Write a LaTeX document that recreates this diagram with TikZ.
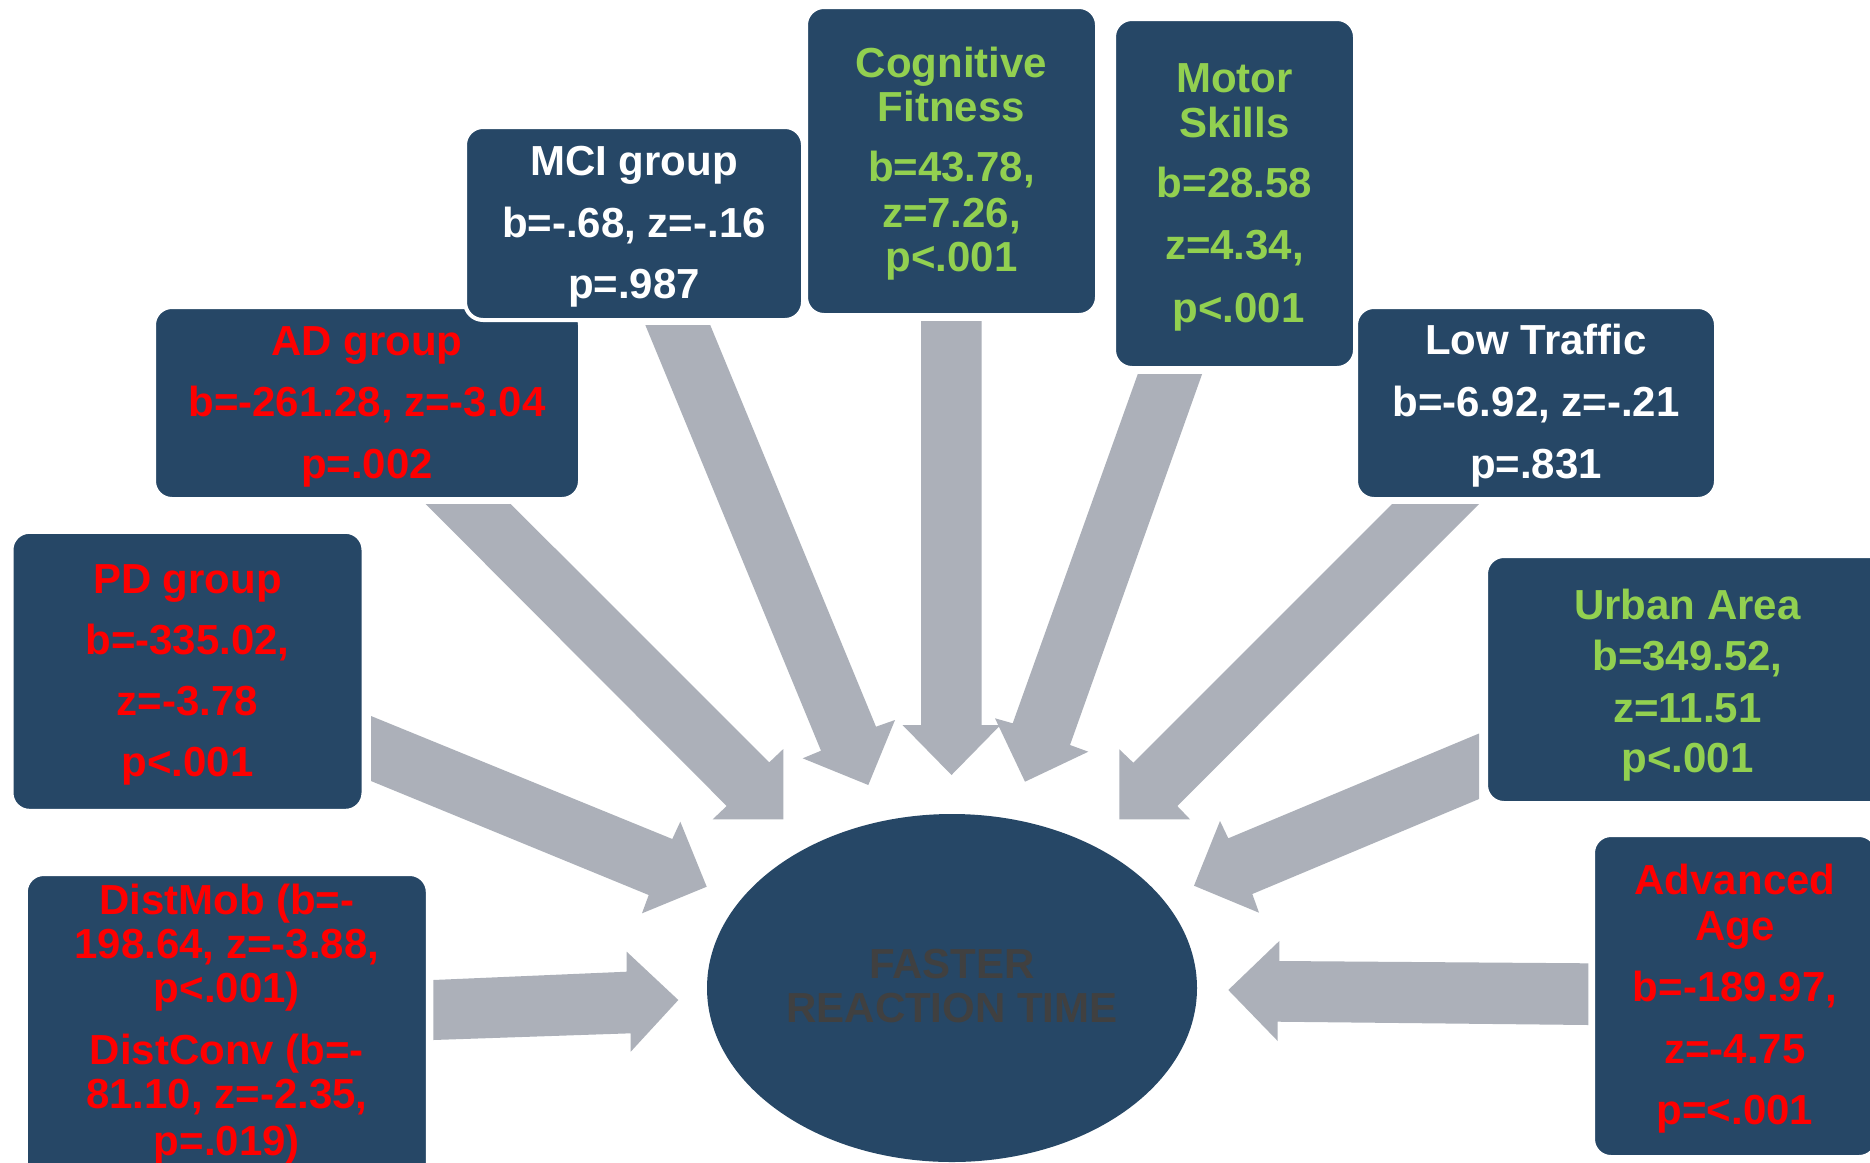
\documentclass[tikz,border=0pt]{standalone}
\usepackage{fontspec}
\setmainfont{Liberation Sans}
\usetikzlibrary{shapes.geometric}
\definecolor{boxblue}{RGB}{38,71,102}
\definecolor{arrgray}{RGB}{172,176,185}
\definecolor{sigred}{RGB}{255,0,0}
\definecolor{siggreen}{RGB}{146,208,80}
\definecolor{midgray}{RGB}{64,64,64}
\tikzset{
  panel/.style={rectangle, rounded corners=18pt, fill=boxblue, draw=white, line width=4pt, inner sep=0pt},
  lbl/.style={font=\fontsize{42}{42}\selectfont\bfseries, anchor=base, inner sep=0pt},
  arr/.style={fill=arrgray},
}
\newcommand\boxlines[4]{%
  \foreach \yy/\tx [count=\i] in {#4} \node[lbl, text=#3] (#1-\i) at (#2,\yy) {\tx};}
\begin{document}
\begin{tikzpicture}[x=1pt,y=-1pt]
\useasboundingbox (0,0) rectangle (1870,1162);
\fill[white] (0,0) rectangle (1870,1162);
% block arrows
\fill[arr] (425.7,504) -- (510.7,504) -- (769.3,762.3) -- (783.3,749) -- (783.3,819.3) -- (712.7,819.3) -- (726.7,806) -- cycle;
\fill[arr] (371,716) -- (672.3,839) -- (680.3,821.7) -- (706.7,886.7) -- (642,913.3) -- (648.7,895) -- (371,781) -- cycle;
\fill[arr] (645.3,325) -- (710.2,325) -- (876,726.7) -- (895,720) -- (868.3,785) -- (802.7,758.3) -- (821,750.7) -- cycle;
\fill[arr] (921,321) -- (981.7,321) -- (981.7,725) -- (1000.5,725) -- (951.5,775) -- (902.5,725) -- (921,725) -- cycle;
\fill[arr] (1137.8,374) -- (1202.1,374) -- (1070,745) -- (1088.3,751.7) -- (1025,781.7) -- (995,718.3) -- (1012.7,723.3) -- cycle;
\fill[arr] (1392,504) -- (1479,504) -- (1177.3,806) -- (1190,819.3) -- (1119.3,819.3) -- (1119.3,749.3) -- (1133.3,762.7) -- cycle;
\fill[arr] (1479,733.5) -- (1228.3,838.3) -- (1220,821) -- (1194,885.7) -- (1259,912.7) -- (1252.3,894) -- (1479,799) -- cycle;
\fill[arr] (433.3,980) -- (626.7,971.7) -- (626.7,951.7) -- (678.3,1000) -- (630.7,1051.7) -- (630.7,1033.3) -- (433.3,1040) -- cycle;
\fill[arr] (1588.3,963.3) -- (1279.3,961) -- (1279.3,941) -- (1228.3,990) -- (1277.7,1041) -- (1277.7,1021.7) -- (1588.3,1025) -- cycle;
% boxes
\node[panel, minimum width=426pt, minimum height=192pt] (ad) at (367,403) {};
\node[panel, minimum width=352pt, minimum height=279pt] (pd) at (187.5,671.3) {};
\node[panel, minimum width=402pt, minimum height=316pt] (dist) at (226.8,1032) {};
\node[panel, minimum width=403pt, minimum height=247pt] (urb) at (1687.5,679.5) {};
\node[panel, minimum width=284pt, minimum height=322pt] (age) at (1735,996) {};
\node[panel, minimum width=338pt, minimum height=193pt] (mci) at (634,223.5) {};
\node[panel, minimum width=291pt, minimum height=308pt] (cog) at (951.5,161) {};
\node[panel, minimum width=241pt, minimum height=349pt] (mot) at (1234.5,193.5) {};
\node[panel, minimum width=360pt, minimum height=192pt] (low) at (1536,403) {};
\node[ellipse, fill=boxblue, minimum width=490pt, minimum height=348pt, inner sep=0pt] (frt) at (952,988) {};
% texts
\boxlines{mcit}{634}{white}{175/MCI group, 237/{b=-.68, z=-.16}, 298/p=.987}
\boxlines{cogt}{951.5}{siggreen}{77/Cognitive, 121.5/Fitness, 181/{b=43.78,}, 227/{z=7.26,}, 271.5/p<.001}
\boxlines{mott}{1234.5}{siggreen}{92.7/Motor, 137/Skills, 197.7/b=28.58, 259.3/{z=4.34,}}
\node[lbl, text=siggreen] (mott-5) at (1238.5,322) {p<.001};
\boxlines{adt}{367}{sigred}{355/AD group, 416.5/{b=-261.28, z=-3.04}, 478/p=.002}
\boxlines{lowt}{1536}{white}{354.5/Low Traffic, 416.5/{b=-6.92, z=-.21}, 478/p=.831}
\boxlines{pdt}{187.5}{sigred}{593.6/PD group, 654.4/{b=-335.02,}, 715.3/z=-3.78, 776.1/p<.001}
\boxlines{urbt}{1687.5}{siggreen}{619/Urban Area, 670/{b=349.52,}, 722/z=11.51, 772/p<.001}
\boxlines{distt}{226.8}{sigred}{914.3/DistMob (b=-, 958/{198.64, z=-3.88,}, 1002/p<.001), 1064/DistConv (b=-, 1108/{81.10, z=-2.35,}, 1155/p=.019)}
\boxlines{aget}{1735}{sigred}{894/Advanced, 940/Age, 1001/{b=-189.97,}, 1063/z=-4.75, 1124/p=<.001}
\boxlines{frtt}{952}{midgray}{978.3/FASTER, 1022.5/REACTION TIME}
\end{tikzpicture}
\end{document}
